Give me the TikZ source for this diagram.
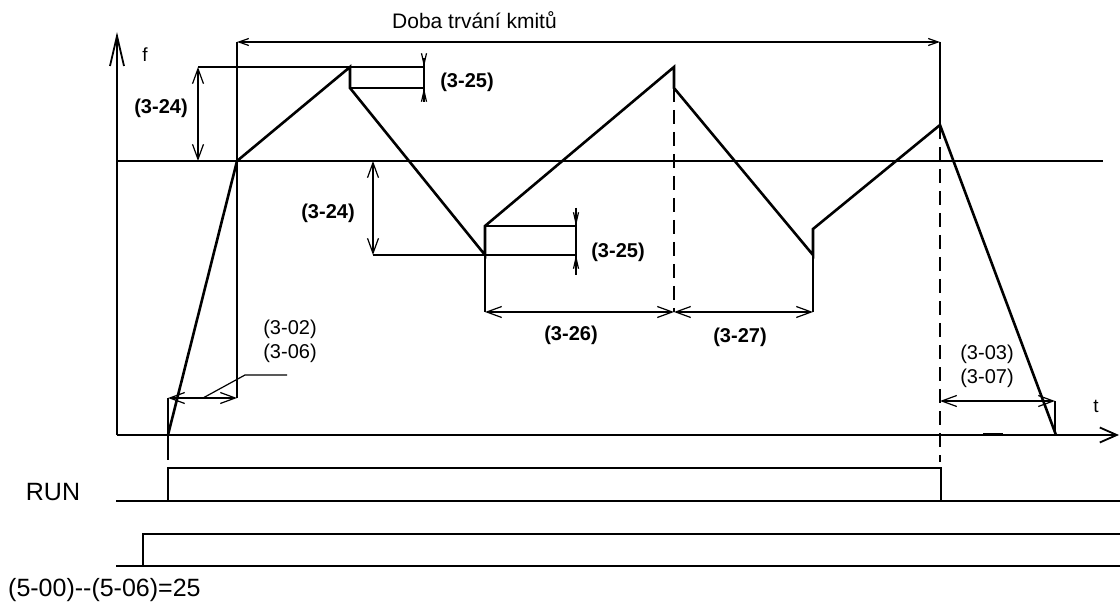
\documentclass[tikz,border=0pt]{standalone}
\usepackage{fontspec}
\setmainfont{Liberation Sans}
\usetikzlibrary{arrows.meta}
\tikzset{
  dimtip/.tip={Straight Barb[length=15pt,width=11pt]},
  smalltip/.tip={Straight Barb[length=10pt,width=7pt]},
  tinytip/.tip={Straight Barb[length=11pt,width=5pt]},
  axistip/.tip={Straight Barb[length=30pt,width=14pt]},
  ttip/.tip={Straight Barb[length=17pt,width=15pt]},
  dimline/.style={line width=1.2pt},
  refline/.style={line width=1.8pt},
  axisline/.style={line width=1.8pt},
  waveline/.style={line width=2.6pt, line join=miter},
  sigline/.style={line width=2.4pt, line join=miter},
  dashline/.style={line width=1.8pt, dash pattern=on 14pt off 8pt},
  lbl/.style={inner sep=0pt, font=\fontsize{20}{24}\selectfont},
  boldlbl/.style={inner sep=0pt, font=\fontsize{20}{24}\selectfont\bfseries},
  biglbl/.style={inner sep=0pt, font=\fontsize{25}{30}\selectfont},
}
\begin{document}
\begin{tikzpicture}[x=1pt,y=-1pt]
\useasboundingbox (0,0) rectangle (1120,604);
% key points
\coordinate (o) at (117,435);
\coordinate (ftop) at (117,32);
\coordinate (tend) at (1119,435);
\coordinate (refL) at (117,161);
\coordinate (refR) at (1103,161);
\coordinate (s0) at (168,435);
\coordinate (r1) at (237,161);
\coordinate (p1) at (350,67);
\coordinate (p1b) at (350,88);
\coordinate (v1) at (485,255);
\coordinate (v1b) at (485,226);
\coordinate (p2) at (674,67);
\coordinate (p2b) at (674,88);
\coordinate (v2) at (813,255);
\coordinate (v2b) at (813,229);
\coordinate (p3) at (940,125);
\coordinate (e) at (1056,435);

% axes
\draw[axisline,-axistip] (o) -- (ftop);
\draw[axisline,-ttip] (o) -- (tend);
\draw[line width=2.6pt] (983,434) -- (1003,434);
\draw[refline] (refL) -- (refR);
\node[font=\fontsize{19}{20}\selectfont, inner sep=0pt, anchor=base] (flbl) at (145,62) {f};
\node[font=\fontsize{19}{20}\selectfont, inner sep=0pt, anchor=base] (tlbl) at (1096,412) {t};

% duration dimension
\coordinate (dL) at (237,42);
\coordinate (dR) at (940,42);
\draw[dimline,smalltip-smalltip] (dL) -- (dR);
\node[font=\fontsize{21}{24}\selectfont, inner sep=0pt, anchor=base] (doba) at (474.5,29) {Doba trvání kmitů};
\coordinate (x237b) at (237,398);
\draw[dimline] (dL) -- (x237b);
\draw[dimline] (dR) -- (p3);
\draw[dashline] (p3) -- (940,462);
\draw[dashline] (p2b) -- (674,312);

% waveform
\draw[waveline] (s0) -- (r1) -- (p1) -- (p1b) -- (v1) -- (v1b) -- (p2) -- (p2b) -- (v2) -- (v2b) -- (p3) -- (e);

% (3-24) upper
\coordinate (a1t) at (198,67);
\coordinate (a1b) at (198,161);
\draw[dimline] (a1t) -- (424,67);
\draw[dimline,dimtip-dimtip] (a1t) -- (a1b);
\node[boldlbl] (l324a) at (161,108) {(3-24)};

% (3-25) upper
\draw[dimline] (p1b) -- (424,88);
\draw[dimline] (424,58) -- (424,102);
\draw[dimline,-tinytip] (424,58) -- (424,67);
\draw[dimline,-tinytip] (424,102) -- (424,88);
\node[boldlbl] (l325a) at (467,82) {(3-25)};

% (3-24) lower
\coordinate (a2t) at (373,161);
\coordinate (a2b) at (373,255);
\draw[dimline,dimtip-dimtip] (a2t) -- (a2b);
\draw[dimline] (a2b) -- (576,255);
\node[boldlbl] (l324b) at (328,213) {(3-24)};

% (3-25) lower
\draw[dimline] (v1b) -- (576,226);
\draw[dimline] (576,208) -- (576,275);
\draw[dimline,-tinytip] (576,208) -- (576,226);
\draw[dimline,-tinytip] (576,275) -- (576,255);
\node[boldlbl] (l325b) at (618,252) {(3-25)};

% (3-26), (3-27)
\coordinate (d26L) at (485,312);
\coordinate (d26R) at (674,312);
\coordinate (d27R) at (813,312);
\draw[dimline] (v1) -- (d26L);
\draw[dimline] (v2) -- (d27R);
\draw[dimline,dimtip-dimtip] (d26L) -- (d26R);
\draw[dimline,dimtip-dimtip] (d26R) -- (d27R);
\node[boldlbl] (l326) at (571,335) {(3-26)};
\node[boldlbl] (l327) at (740,337) {(3-27)};

% (3-02)/(3-06)
\coordinate (acL) at (168,398);
\coordinate (acR) at (237,398);
\draw[dimline] (acL) -- (168,460);
\draw[dimline,dimtip-dimtip] (acL) -- (acR);
\draw[dimline] (203,398) -- (245,375) -- (287,375);
\node[lbl, align=center] (l302) at (290,341) {(3-02)\\(3-06)};

% (3-03)/(3-07)
\coordinate (dcL) at (940,401);
\coordinate (dcR) at (1055,401);
\draw[dimline,dimtip-dimtip] (dcL) -- (dcR);
\draw[dimline] (dcR) -- (1055,435);
\node[lbl, align=center] (l303) at (987,366) {(3-03)\\(3-07)};

% RUN signal
\node[biglbl] (run) at (53,492) {RUN};
\draw[sigline] (116,501) -- (168,501) -- (168,468) -- (941,468) -- (941,501) -- (1120,501);
\draw[dimline] (168,501) -- (941,501);

% second signal
\draw[sigline] (116,566) -- (143,566) -- (143,534) -- (1120,534);
\draw[dimline] (143,566) -- (1120,566);
\node[biglbl, anchor=west] (par) at (8,590) {(5-00)-{}-(5-06)=25};
\end{tikzpicture}
\end{document}
